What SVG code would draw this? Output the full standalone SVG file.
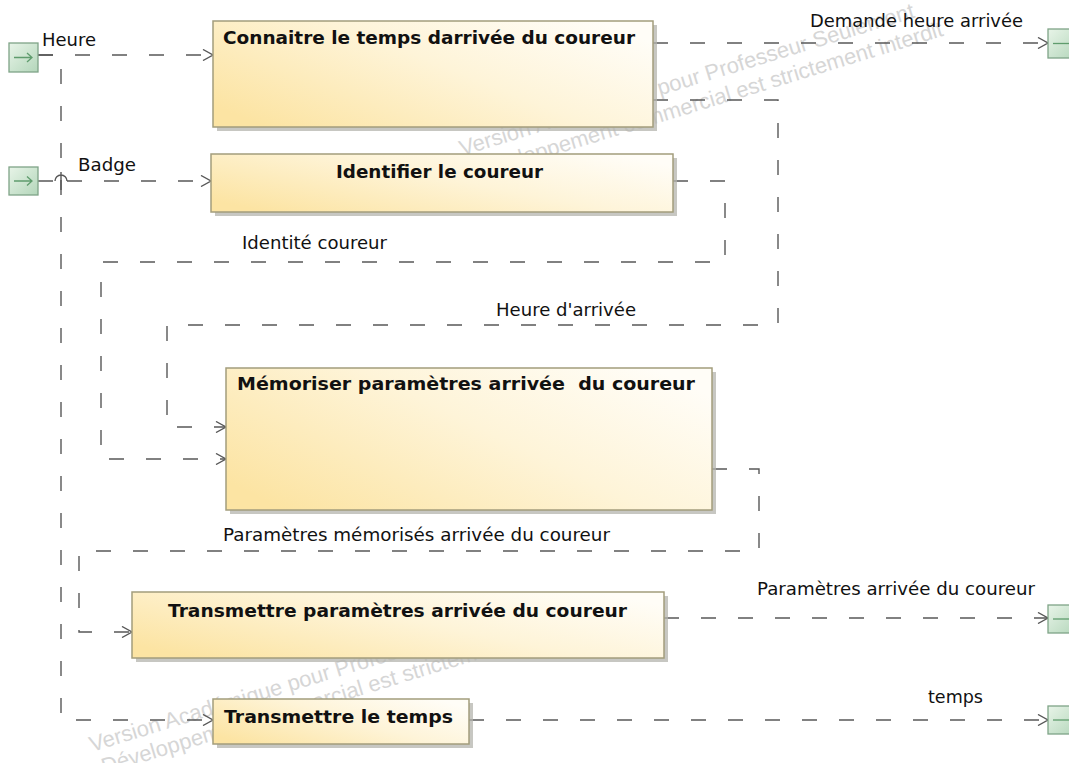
<svg xmlns="http://www.w3.org/2000/svg" width="1069" height="763" viewBox="0 0 1069 763">
<style>
.box{fill:url(#boxFill);stroke:#a39d7c;stroke-width:1.5}
.shadow{fill:#b4b4ae;opacity:0.75}
.title{font-family:"DejaVu Sans","Liberation Sans",sans-serif;font-weight:bold;font-size:18px;fill:#111}
.lbl{font-family:"DejaVu Sans","Liberation Sans",sans-serif;font-size:17px;fill:#111}
.conn{fill:none;stroke:#585858;stroke-width:1.4;stroke-dasharray:15 22}
.hop{fill:none;stroke:#585858;stroke-width:1.4}
.pin{fill:url(#pinFill);stroke:#7fa487;stroke-width:1.3}
.pinarrow{fill:none;stroke:#5f9c6d;stroke-width:1.3}
.wm{font-family:"Liberation Sans",Arial,sans-serif;font-size:22px;fill:#d6d6d6}
</style>
<defs>
<linearGradient id="boxFill" x1="0" y1="0.8" x2="1" y2="0.2">
<stop offset="0" stop-color="#fce4a3"/>
<stop offset="0.55" stop-color="#fef4d8"/>
<stop offset="1" stop-color="#fffdf7"/>
</linearGradient>
<linearGradient id="pinFill" x1="0" y1="0" x2="1" y2="1">
<stop offset="0" stop-color="#e8f4e8"/>
<stop offset="1" stop-color="#b3d6ba"/>
</linearGradient>
<marker id="arr" viewBox="0 0 12 12" refX="11" refY="6" markerWidth="12" markerHeight="12" markerUnits="userSpaceOnUse" orient="auto">
<path d="M1,0.5 L11,6 L1,11.5" fill="none" stroke="#585858" stroke-width="1.4"/>
</marker>
</defs>
<rect width="1069" height="763" fill="#ffffff"/>

<g id="watermark">
<text class="wm" transform="translate(462,156) rotate(-17)">Version Académique pour Professeur Seulement</text>
<text class="wm" transform="translate(472,180) rotate(-17)">Développement commercial est strictement interdit</text>
<text class="wm" transform="translate(92,752) rotate(-17)">Version Académique pour Professeur Seulement</text>
<text class="wm" transform="translate(104,774) rotate(-17)">Développement commercial est strictement interdit</text>
</g>

<g id="connectors">
<path class="conn" d="M38,55 H213" marker-end="url(#arr)"/>
<path class="conn" d="M38,55 H61 V720 H213" marker-end="url(#arr)"/>
<path class="conn" d="M38,181 H55 M67,181 H211" marker-end="url(#arr)"/>
<path class="hop" d="M55,181 A6,6 0 0 1 67,181 M61,172 V190"/>
<path class="conn" d="M653,43 H1048" marker-end="url(#arr)"/>
<path class="conn" d="M653,100 H778 V325 H167 V427 H226" marker-end="url(#arr)"/>
<path class="conn" d="M673,181 H725 V262 H101 V459 H226" marker-end="url(#arr)"/>
<path class="conn" d="M712,469 H759 V551 H79 V632 H132" marker-end="url(#arr)"/>
<path class="conn" d="M664,618 H1048" marker-end="url(#arr)"/>
<path class="conn" d="M469,720 H1048" marker-end="url(#arr)"/>
<text class="lbl" x="42" y="46" textLength="54" lengthAdjust="spacingAndGlyphs">Heure</text>
<text class="lbl" x="78" y="171" textLength="58" lengthAdjust="spacingAndGlyphs">Badge</text>
<text class="lbl" x="810" y="27" textLength="213" lengthAdjust="spacingAndGlyphs">Demande heure arrivée</text>
<text class="lbl" x="242" y="249" textLength="145" lengthAdjust="spacingAndGlyphs">Identité coureur</text>
<text class="lbl" x="496" y="316" textLength="140" lengthAdjust="spacingAndGlyphs">Heure d'arrivée</text>
<text class="lbl" x="223" y="541" textLength="387" lengthAdjust="spacingAndGlyphs">Paramètres mémorisés arrivée du coureur</text>
<text class="lbl" x="757" y="595" textLength="278" lengthAdjust="spacingAndGlyphs">Paramètres arrivée du coureur</text>
<text class="lbl" x="928" y="703" textLength="55" lengthAdjust="spacingAndGlyphs">temps</text>
</g>

<g id="pin-heure">
<rect class="pin" x="9" y="43" width="29" height="29"/>
<path class="pinarrow" d="M14,57.5 H32 M27,53 L32,57.5 L27,62"/>
</g>
<g id="pin-badge">
<rect class="pin" x="9" y="167" width="29" height="28"/>
<path class="pinarrow" d="M14,181 H32 M27,176.5 L32,181 L27,185.5"/>
</g>
<g id="pin-demande">
<rect class="pin" x="1048" y="29" width="30" height="29"/>
<path class="pinarrow" d="M1053,43.5 H1071"/>
</g>
<g id="pin-parametres">
<rect class="pin" x="1048" y="605" width="30" height="28"/>
<path class="pinarrow" d="M1053,619 H1071"/>
</g>
<g id="pin-temps">
<rect class="pin" x="1048" y="706" width="30" height="28"/>
<path class="pinarrow" d="M1053,720 H1071"/>
</g>

<g id="connaitre">
<rect class="shadow" x="217" y="25" width="440" height="106"/>
<rect class="box" x="213" y="21" width="440" height="106"/>
<text class="title" x="223" y="44" textLength="412" lengthAdjust="spacingAndGlyphs">Connaitre le temps darrivée du coureur</text>
</g>
<g id="identifier">
<rect class="shadow" x="215" y="158" width="462" height="58"/>
<rect class="box" x="211" y="154" width="462" height="58"/>
<text class="title" x="336" y="178" textLength="207" lengthAdjust="spacingAndGlyphs">Identifier le coureur</text>
</g>
<g id="memoriser">
<rect class="shadow" x="230" y="372" width="486" height="142"/>
<rect class="box" x="226" y="368" width="486" height="142"/>
<text class="title" x="237" y="390" textLength="458" lengthAdjust="spacingAndGlyphs" xml:space="preserve">Mémoriser paramètres arrivée  du coureur</text>
</g>
<g id="transmettre-parametres">
<rect class="shadow" x="136" y="596" width="532" height="66"/>
<rect class="box" x="132" y="592" width="532" height="66"/>
<text class="title" x="168" y="617" textLength="459" lengthAdjust="spacingAndGlyphs">Transmettre paramètres arrivée du coureur</text>
</g>
<g id="transmettre-temps">
<rect class="shadow" x="217" y="703" width="256" height="45"/>
<rect class="box" x="213" y="699" width="256" height="45"/>
<text class="title" x="224" y="723" textLength="229" lengthAdjust="spacingAndGlyphs">Transmettre le temps</text>
</g>
</svg>
